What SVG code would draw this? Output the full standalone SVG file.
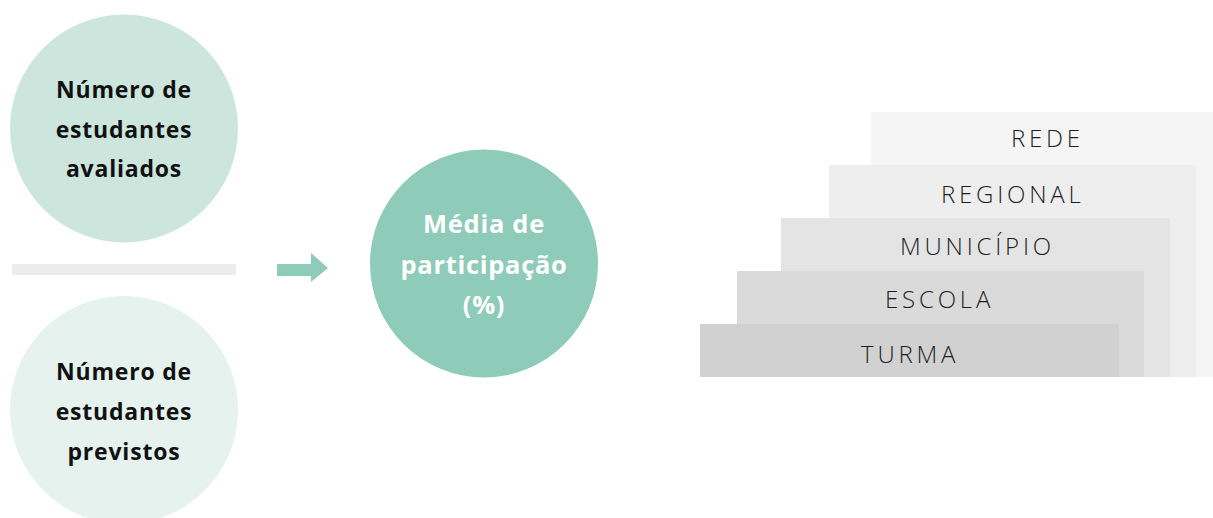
<svg xmlns="http://www.w3.org/2000/svg" width="1213" height="518" viewBox="0 0 1213 518">
<style>
.lt{font-family:"Open Sans","Noto Sans",sans-serif;font-weight:700;font-size:23px;fill:#111;text-anchor:middle;letter-spacing:0.8px}
.mt{font-family:"Open Sans","Noto Sans",sans-serif;font-weight:700;font-size:25.5px;fill:#fff;text-anchor:middle;letter-spacing:0.7px}
.rt{font-family:"Open Sans","Liberation Sans",sans-serif;font-weight:300;font-size:24px;fill:#1e1e1e;letter-spacing:3.8px}
</style>
<rect width="1213" height="518" fill="#fff"/>
<g id="node-avaliados">
<circle cx="124" cy="128.5" r="114" fill="#cce6dd"/>
<text class="lt"><tspan x="124" y="98">Número de</tspan><tspan x="124" y="138">estudantes</tspan><tspan x="124" y="177">avaliados</tspan></text>
</g>
<g id="divider"><rect x="12" y="264" width="224" height="11" fill="#ececec"/></g>
<g id="node-previstos">
<circle cx="124" cy="410" r="114" fill="#e5f2ee"/>
<text class="lt"><tspan x="124" y="380">Número de</tspan><tspan x="124" y="420">estudantes</tspan><tspan x="124" y="460">previstos</tspan></text>
</g>
<g id="connectors">
<polygon points="277,264 311,264 311,253 328,268 311,282 311,276 277,276" fill="#8ecbb8"/>
</g>
<g id="node-media">
<circle cx="484" cy="263.5" r="114" fill="#8ecbb8"/>
<text class="mt"><tspan x="484" y="233">Média de</tspan><tspan x="484" y="274">participação</tspan><tspan x="484" y="314">(%)</tspan></text>
</g>
<g id="node-rede"><rect x="871" y="112" width="342" height="265" fill="#f5f5f5"/><text class="rt" x="1011" y="147">REDE</text></g>
<g id="node-regional"><rect x="829" y="165" width="367" height="212" fill="#eeeeee"/><text class="rt" x="941" y="203">REGIONAL</text></g>
<g id="node-municipio"><rect x="781" y="218" width="389" height="159" fill="#e4e4e4"/><text class="rt" x="900" y="255">MUNICÍPIO</text></g>
<g id="node-escola"><rect x="737" y="271" width="407" height="106" fill="#dadada"/><text class="rt" x="885" y="308">ESCOLA</text></g>
<g id="node-turma"><rect x="700" y="324" width="419" height="53" fill="#d1d1d1"/><text class="rt" x="861" y="363">TURMA</text></g>
</svg>
